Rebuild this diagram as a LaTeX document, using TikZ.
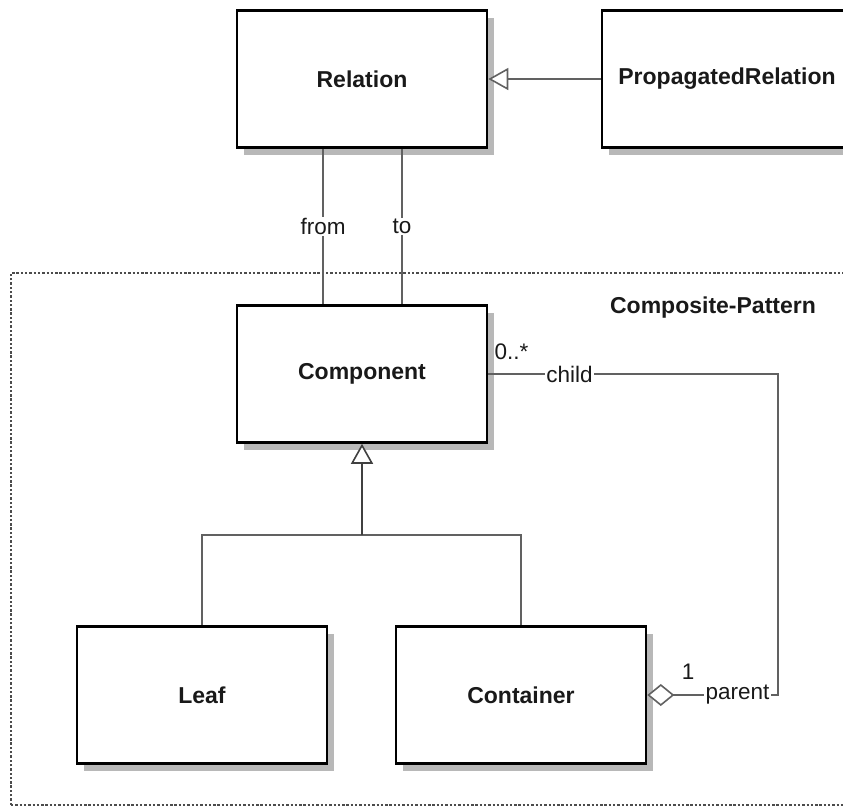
\documentclass[tikz,border=0pt]{standalone}
\usepackage{fontspec}
\setmainfont{Liberation Sans}
\usetikzlibrary{arrows.meta,shadows}

\begin{document}
\begin{tikzpicture}[x=1pt,y=-1pt,
  umlclass/.style={draw=black, line width=2.6pt, fill=white, text=black!90,
    minimum width=250pt, minimum height=137pt, inner sep=0pt,
    font=\fontsize{23}{27}\selectfont\bfseries,
    drop shadow={shadow xshift=7pt, shadow yshift=-7pt, fill=black!28, opacity=1}},
  conn/.style={draw=black!62, line width=1.8pt},
  lbl/.style={fill=white, inner sep=1.5pt, text=black!90, font=\fontsize{22.5}{26}\selectfont},
  mult/.style={inner sep=0pt, text=black!90, font=\fontsize{22.5}{26}\selectfont},
  frame/.style={draw=black!70, line width=2.6pt, dash pattern=on 2.4pt off 1.9pt},
  inherit/.style={-{Triangle[open, length=20pt, width=22pt, fill=white, line width=1.6pt]}},
  aggreg/.style={{Diamond[open, length=27pt, width=22pt, fill=white, line width=1.6pt]}-}
]
\useasboundingbox (0,0) rectangle (843,807);
\clip (0,0) rectangle (843,807);

% package frame
\draw[frame] (11,805) -- (11,273) -- (870,273);
\draw[frame] (11,805) -- (870,805);
\node[font=\fontsize{23}{27}\selectfont\bfseries, text=black!90] (pkg) at (713,308) {Composite-Pattern};

% classes
\node[umlclass] (rel)  at (362,79)   {Relation};
\node[umlclass] (prop) at (727,79)   {PropagatedRelation};
\node[umlclass] (comp) at (362,374)  {Component};
\node[umlclass] (leaf) at (202,695)  {Leaf};
\node[umlclass] (cont) at (521,695)  {Container};

% PropagatedRelation specialises Relation
\draw[conn, inherit] (prop.west) -- (rel.east);

% associations Relation -> Component
\draw[conn] ([xshift=-39pt]rel.south) -- node[lbl]{from} ([xshift=-39pt]comp.north);
\draw[conn] ([xshift=40pt]rel.south) -- node[lbl]{to} ([xshift=40pt]comp.north);

% Leaf and Container specialise Component
\coordinate (join) at (362,535);
\draw[conn] (leaf.north) |- (join) -| (cont.north);
\draw[conn, inherit, draw=black!75] (join) -- (comp.south);

% parent/child aggregation
\coordinate (bend) at (778,0);
\draw[conn, aggreg] (cont.east) -- node[lbl, pos=0.69]{parent} (cont.east -| bend)
  |- node[lbl, pos=0.86]{child} (comp.east);
\node[mult, anchor=west] (mchild) at ([xshift=6pt,yshift=22pt]comp.east) {0..*};
\node[mult] (mparent) at (688,672) {1};
\end{tikzpicture}
\end{document}
